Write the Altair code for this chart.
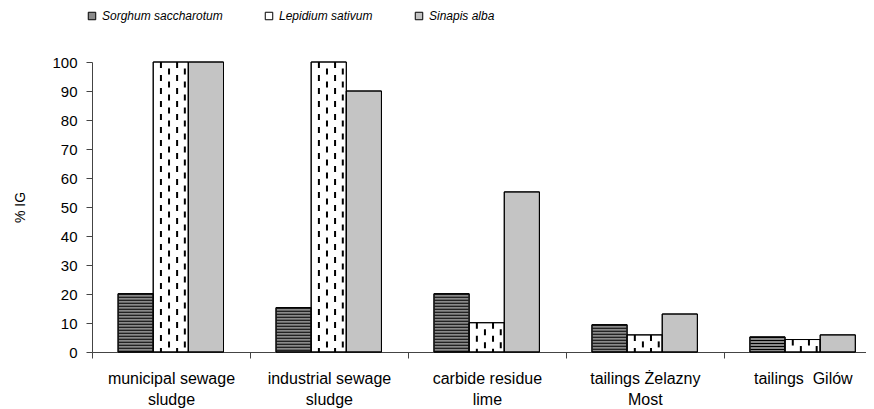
import json
import altair as alt
import pandas as pd

# ---------------- data ----------------
categories = [
    "municipal sewage\nsludge",
    "industrial sewage\nsludge",
    "carbide residue\nlime",
    "tailings Żelazny\nMost",
    "tailings\u00a0 Gilów",
]
series = ["Sorghum saccharotum", "Lepidium sativum", "Sinapis alba"]
sorghum = [20.1, 15.3, 20.1, 9.4, 5.2]
lepidium = [100, 100, 10.1, 5.9, 4.3]
sinapis = [100, 90, 55.2, 13.1, 5.9]
y_ticks = [0, 10, 20, 30, 40, 50, 60, 70, 80, 90, 100]

# ---------------- layout helpers ----------------
values_by_series = [sorghum, lepidium, sinapis]
GROUP_START = 0.165
BAR_W = 0.2225
X_MAX = 4.9
W, H = 774, 290

rows = []
for j, (s, vals) in enumerate(zip(series, values_by_series)):
    for i, (c, v) in enumerate(zip(categories, vals)):
        x0 = i + GROUP_START + j * BAR_W
        rows.append(dict(series=s, value=v, x0=x0, x1=x0 + BAR_W, xc=x0 + BAR_W / 2))
df = pd.DataFrame(rows)
df_sorghum = df[df.series == series[0]]
df_lep = df[df.series == series[1]]

dash_rows = []
for _, r in df_lep.iterrows():
    for k, f in enumerate([0.22, 0.45, 0.68, 0.9]):
        dash_rows.append(dict(x=r.x0 + f * BAR_W, value=r.value, phase=k % 2))
df_dash = pd.DataFrame(dash_rows)

# axis labels
label_positions = [i + 0.5 for i in range(len(categories))]
expr = "''"
for pos, c in reversed(list(zip(label_positions, categories))):
    expr = f"datum.value == {pos} ? {json.dumps(c.split(chr(10)), ensure_ascii=False)} : ({expr})"
x_values = sorted(label_positions + list(range(len(categories))))

FONT = "Liberation Sans"
xscale = alt.Scale(domain=[0, X_MAX], nice=False, zero=False)
yscale = alt.Scale(domain=[0, 100], nice=False)

x_axis = alt.Axis(
    values=x_values,
    labelExpr=expr,
    title=None,
    grid=False,
    tickSize=6,
    tickOpacity={"condition": {"test": "datum.value % 1 === 0", "value": 1}, "value": 0},
    labelPadding=12,
    labelBaseline="top",
    labelLineHeight=21,
    labelFontSize=16,
    labelFont=FONT,
    labelColor="black",
    domainColor="#444",
    tickColor="#444",
    labelAngle=0,
    labelOverlap=False,
)
y_axis = alt.Axis(
    values=y_ticks,
    tickCount=11,
    title="% IG",
    titleFontWeight="normal",
    titleFontSize=14,
    titleFont=FONT,
    titleColor="black",
    titlePadding=24,
    grid=False,
    tickSize=6,
    labelPadding=9,
    labelFontSize=15,
    labelFont=FONT,
    labelColor="black",
    labelOverlap=False,
    domainColor="#444",
    tickColor="#444",
)

X = lambda f: alt.X(f, scale=xscale, axis=x_axis)
Y = lambda f: alt.Y(f, scale=yscale, axis=y_axis)

base = alt.Chart(df)

bars = base.mark_rect(stroke="black", strokeWidth=1).encode(
    x=X("x0:Q"),
    x2="x1:Q",
    y=Y("value:Q"),
    y2=alt.datum(0),
    fill=alt.Fill(
        "series:N",
        scale=alt.Scale(domain=series, range=["#8a8a8a", "white", "#c4c4c4"]),
        legend=alt.Legend(
            title=None,
            orient="none",
            legendX=-6,
            legendY=-52,
            direction="horizontal",
            symbolType="square",
            symbolSize=56,
            symbolStrokeColor="black",
            symbolStrokeWidth=1,
            labelFontSize=12,
            labelFont=FONT,
            labelFontStyle="italic",
            labelColor="black",
            columnPadding=40,
            labelOffset=4,
        ),
    ),
)

stripes = alt.Chart(df_sorghum).mark_rule(
    strokeWidth=34, strokeDash=[1, 2], color="black", strokeCap="butt"
).encode(x=X("xc:Q"), y=Y("value:Q"), y2=alt.datum(0))

dashes_a = alt.Chart(df_dash).transform_filter("datum.phase == 0").mark_rule(
    strokeWidth=2, strokeDash=[6, 7], color="black", strokeCap="butt"
).encode(x=X("x:Q"), y=Y("value:Q"), y2=alt.datum(0))

dashes_b = alt.Chart(df_dash).transform_filter("datum.phase == 1").mark_rule(
    strokeWidth=2, strokeDash=[6, 7], strokeDashOffset=6.5, color="black", strokeCap="butt"
).encode(x=X("x:Q"), y=Y("value:Q"), y2=alt.datum(0))

outlines = base.mark_rect(stroke="black", strokeWidth=1, fillOpacity=0, fill="white").encode(
    x=X("x0:Q"),
    x2="x1:Q",
    y=Y("value:Q"),
    y2=alt.datum(0),
)

chart = alt.layer(bars, stripes, dashes_a, dashes_b, outlines).properties(
    width=W,
    height=H,
    autosize=alt.AutoSizeParams(type="none"),
    padding={"left": 84, "top": 54, "right": 0, "bottom": 56},
    background="white",
).configure_view(stroke=None)

chart.save("out.html", embed_options={"renderer": "svg", "actions": False})
